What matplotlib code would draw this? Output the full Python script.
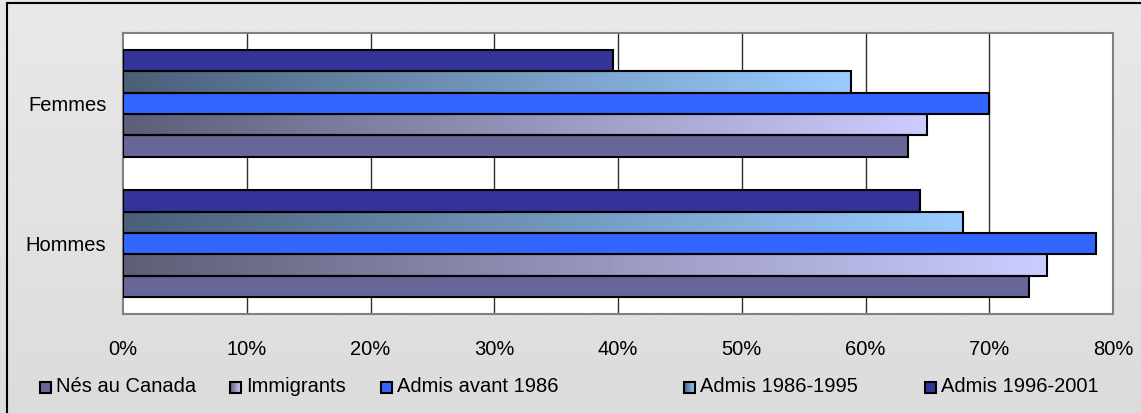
import numpy as np
import matplotlib
matplotlib.use("Agg")
from matplotlib import pyplot as plt
from matplotlib.patches import Rectangle
from matplotlib.colors import LinearSegmentedColormap

plt.rcParams['font.family'] = ['Liberation Sans', 'DejaVu Sans']

categories = ['Hommes', 'Femmes']
series = ['Nés au Canada', 'Immigrants', 'Admis avant 1986', 'Admis 1986-1995', 'Admis 1996-2001']
# values in percent, [Hommes, Femmes]
nes_canada = [73.2, 63.4]
immigrants = [74.7, 65.0]
avant_1986 = [78.6, 70.0]
admis_86_95 = [67.9, 58.8]
admis_96_01 = [64.4, 39.6]
values = [nes_canada, immigrants, avant_1986, admis_86_95, admis_96_01]
xticks = [0, 10, 20, 30, 40, 50, 60, 70, 80]

# solid colour or (left, right) gradient
fills = ['#666699', ('#5e5e78', '#ccccff'), '#3366ff', ('#4a6078', '#99ccff'), '#333399']

W, H = 1141, 413
fig = plt.figure(figsize=(W / 100, H / 100), dpi=100)

# light gray background with a soft gradient
bg = fig.add_axes([0, 0, 1, 1])
bg.imshow(np.linspace(0.91, 0.86, 200).reshape(-1, 1), cmap='gray', vmin=0, vmax=1,
          aspect='auto', extent=[0, 1, 0, 1])
bg.set_xlim(0, 1)
bg.set_ylim(0, 1)
bg.axis('off')
bg.add_patch(Rectangle((7 / W, -0.1), 1.2, (H - 3) / H + 0.1, fill=False, ec='black', lw=1.5,
                       transform=bg.transAxes))

left, right, top, bottom = 123, 1113, 33, 314
ax = fig.add_axes([left / W, (H - bottom) / H, (right - left) / W, (bottom - top) / H])
ax.set_facecolor('white')

bar_h = 0.1525
y_base = np.arange(len(categories))
for i, (name, vals, fc) in enumerate(zip(series, values, fills)):
    ys = y_base + (i - 2) * bar_h
    for y, v in zip(ys, vals):
        if isinstance(fc, tuple):
            cmap = LinearSegmentedColormap.from_list('g', list(fc))
            ax.imshow(np.linspace(0, 1, 256).reshape(1, -1), cmap=cmap, aspect='auto',
                      extent=[0, v, y - bar_h / 2, y + bar_h / 2], zorder=3, interpolation='bilinear')
            ax.add_patch(Rectangle((0, y - bar_h / 2), v, bar_h, fill=False, ec='black', lw=1.5, zorder=4))
        else:
            ax.add_patch(Rectangle((0, y - bar_h / 2), v, bar_h, fc=fc, ec='black', lw=1.5, zorder=4))

for x in xticks[1:-1]:
    ax.axvline(x, color='#303030', lw=1, zorder=1)

ax.set_xlim(0, 80)
ax.set_ylim(-0.5, 1.5)
ax.set_xticks(xticks)
ax.set_xticklabels([f'{t}%' for t in xticks], fontsize=14.5)
ax.set_yticks(y_base)
ax.set_yticklabels(categories, fontsize=14.5)
ax.tick_params(length=0, pad=12, axis='y')
ax.tick_params(length=0, pad=19, axis='x')
for s in ax.spines.values():
    s.set_color('#808080')
    s.set_linewidth(1.5)

# legend along the bottom
leg_x = [40, 230, 381, 684, 925]
sq = 11
for x, name, fc in zip(leg_x, series, fills):
    y0 = (H - 393) / H
    if isinstance(fc, tuple):
        cmap = LinearSegmentedColormap.from_list('g', list(fc))
        bg.imshow(np.linspace(0, 1, 50).reshape(1, -1), cmap=cmap, aspect='auto',
                  extent=[x / W, (x + sq) / W, y0, y0 + sq / H], zorder=3)
        bg.add_patch(Rectangle((x / W, y0), sq / W, sq / H, fill=False, ec='black', lw=1.5, zorder=4))
    else:
        bg.add_patch(Rectangle((x / W, y0), sq / W, sq / H, fc=fc, ec='black', lw=1.5, zorder=4))
    bg.text((x + 16) / W, (H - 387) / H, name, fontsize=14.5, va='center', ha='left')
bg.set_xlim(0, 1)
bg.set_ylim(0, 1)

fig.savefig('out.png', dpi=100)
